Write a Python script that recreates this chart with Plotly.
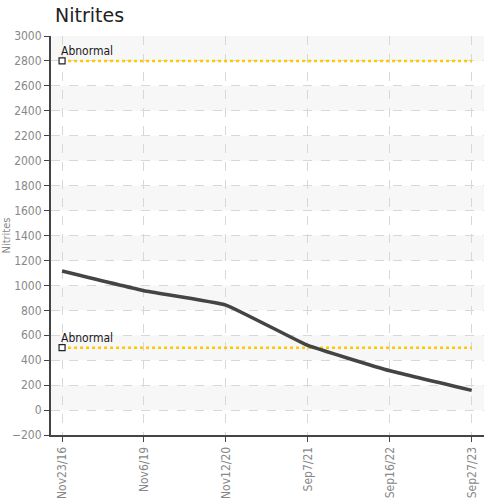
import plotly.graph_objects as go

categories = ["Nov23/16", "Nov6/19", "Nov12/20", "Sep7/21", "Sep16/22", "Sep27/23"]
nitrites = [1115, 957, 842, 518, 315, 158]
thresholds = [2800, 500]
threshold_label = "Abnormal"
y_ticks = list(range(-200, 3001, 200))

FONT = "DejaVu Sans Condensed, Liberation Sans Narrow, sans-serif"

fig = go.Figure()

# alternating bands
shapes = []
for lo in range(0, 3000, 400):
    shapes.append(dict(type="rect", xref="paper", yref="y", x0=0, x1=1, y0=lo, y1=lo + 200,
                       fillcolor="#f7f7f7", line_width=0, layer="below"))

for t in thresholds:
    fig.add_trace(go.Scatter(x=categories, y=[t] * len(categories), mode="lines",
                             line=dict(color="#FFC800", width=2.5, dash="dot"),
                             hoverinfo="skip", showlegend=False))
    fig.add_trace(go.Scatter(x=[categories[0]], y=[t], mode="markers",
                             marker=dict(symbol="square", size=6, color="white",
                                         line=dict(color="#222", width=1.2)),
                             showlegend=False))
    fig.add_annotation(x=categories[0], y=t, text=threshold_label, showarrow=False,
                       xanchor="left", yanchor="bottom", xshift=-3, yshift=1,
                       font=dict(family=FONT, size=12, color="#1a1a1a"))

fig.add_trace(go.Scatter(x=categories, y=nitrites, mode="lines",
                         line=dict(color="#444444", width=3.5, shape="spline", smoothing=0.3),
                         showlegend=False))

fig.update_layout(
    width=492, height=503,
    margin=dict(l=51, r=8, t=36, b=68),
    plot_bgcolor="white", paper_bgcolor="white",
    shapes=shapes,
    title=dict(text="Nitrites", x=55 / 492, xref="container", xanchor="left",
               y=1 - 15 / 503, yref="container", yanchor="middle",
               font=dict(family="DejaVu Sans, sans-serif", size=19, color="#222")),
    font=dict(family=FONT, size=12, color="#888"),
)
fig.update_xaxes(
    type="category", range=[-0.135, 5.15], tickangle=-90, automargin=False,
    showgrid=True, gridcolor="#d8d8d8", griddash="dash", gridwidth=1,
    showline=True, linecolor="#444", linewidth=2,
    ticks="outside", ticklen=5, tickcolor="#444",
    tickfont=dict(family=FONT, size=12, color="#888"), zeroline=False,
)
fig.update_yaxes(
    range=[-200, 3000], tickvals=y_ticks, automargin=False,
    showgrid=True, gridcolor="#d8d8d8", griddash="dash", gridwidth=1,
    showline=True, linecolor="#444", linewidth=2,
    ticks="outside", ticklen=5, tickcolor="#444", zeroline=False,
    tickfont=dict(family=FONT, size=12, color="#888"),
    title=dict(text="Nitrites", font=dict(family=FONT, size=11, color="#888"), standoff=4),
)

fig.write_html("out.html", config={"displayModeBar": False},
               post_script="document.body.style.margin='0';document.body.style.overflow='hidden';")
